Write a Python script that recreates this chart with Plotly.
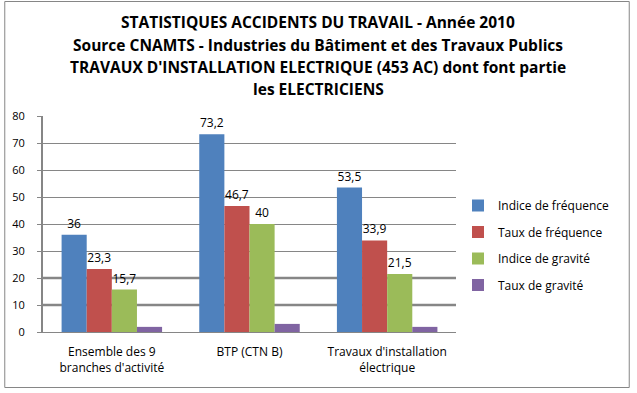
import plotly.graph_objects as go

categories = ["Ensemble des 9<br>branches d'activité", "BTP (CTN B)", "Travaux d'installation<br>électrique"]
series_names = ["Indice de fréquence", "Taux de fréquence", "Indice de gravité", "Taux de gravité"]
indice_frequence = [36, 73.2, 53.5]
taux_frequence = [23.3, 46.7, 33.9]
indice_gravite = [15.7, 40, 21.5]
taux_gravite = [1.9, 3.0, 1.9]
show_labels = [True, True, True, False]
colors = ["#4F81BD", "#C0504D", "#9BBB59", "#8064A2"]
y_ticks = [0, 10, 20, 30, 40, 50, 60, 70, 80]
title_lines = [
    "STATISTIQUES ACCIDENTS DU TRAVAIL - Année 2010",
    "Source CNAMTS - Industries du Bâtiment et des Travaux Publics",
    "TRAVAUX D'INSTALLATION ELECTRIQUE (453 AC) dont font partie",
    "les ELECTRICIENS",
]

W, H = 637, 393
L, R, T, B = 40, 181, 116, 61
pw, ph = W - L - R, H - T - B

def px_x(x):
    return (x - L) / pw

def px_y(y):
    return (H - B - y) / ph

FONT = "Open Sans"
GRID = "#868686"

fig = go.Figure()
all_values = [indice_frequence, taux_frequence, indice_gravite, taux_gravite]
for name, vals, col, lab in zip(series_names, all_values, colors, show_labels):
    fig.add_trace(go.Bar(
        x=categories, y=vals, name=name, legendgroup=name,
        marker=dict(color=col, line=dict(width=0)),
        text=[f"{v:g}".replace(".", ",") for v in vals] if lab else None,
        textposition="outside" if lab else "none",
        textfont=dict(family=FONT, size=12, color="#000000"),
        cliponaxis=False,
    ))

for i, line in enumerate(title_lines):
    fig.add_annotation(
        text=line, xref="paper", yref="paper",
        x=px_x(317), y=px_y([22, 45, 67, 89][i]),
        xanchor="center", yanchor="middle", showarrow=False,
        font=dict(family=FONT, size=15.5, color="#000000", weight="bold"),
    )

# thicker gridlines at 10 and 20 as in the reference rendering
for v in y_ticks[1:3]:
    fig.add_shape(type="line", xref="paper", yref="y", x0=0, x1=1, y0=v, y1=v,
                  line=dict(color=GRID, width=2.5), layer="below")

fig.add_shape(type="rect", xref="paper", yref="paper",
              x0=px_x(1.5), x1=px_x(630.5), y0=px_y(387.5), y1=px_y(1.5),
              line=dict(color=GRID, width=1), layer="above")

fig.update_layout(
    width=W, height=H,
    margin=dict(l=L, r=R, t=T, b=B, pad=0),
    paper_bgcolor="white", plot_bgcolor="white",
    barmode="group", bargap=0.27, bargroupgap=0,
    font=dict(family=FONT, size=12, color="#000000"),
    showlegend=True,
    legend=dict(
        x=px_x(458), y=px_y(191), xanchor="left", yanchor="top",
        traceorder="grouped", tracegroupgap=7.5,
        font=dict(family=FONT, size=12, color="#000000"),
        bgcolor="rgba(0,0,0,0)",
    ),
)
fig.update_yaxes(
    range=[0, 80], tickvals=y_ticks, showgrid=True, gridcolor=GRID, gridwidth=1,
    showline=True, linecolor=GRID, linewidth=2,
    ticks="outside", ticklen=4, tickcolor=GRID,
    tickfont=dict(family=FONT, size=11, color="#000000"),
    ticklabelstandoff=10, zeroline=False,
)
fig.update_xaxes(
    showline=True, linecolor=GRID, linewidth=1, ticks="",
    tickfont=dict(family=FONT, size=12, color="#000000"),
    ticklabelstandoff=9,
)

fig.write_html("out.html", config={"displayModeBar": False},
               post_script="document.body.style.margin='0px';")
